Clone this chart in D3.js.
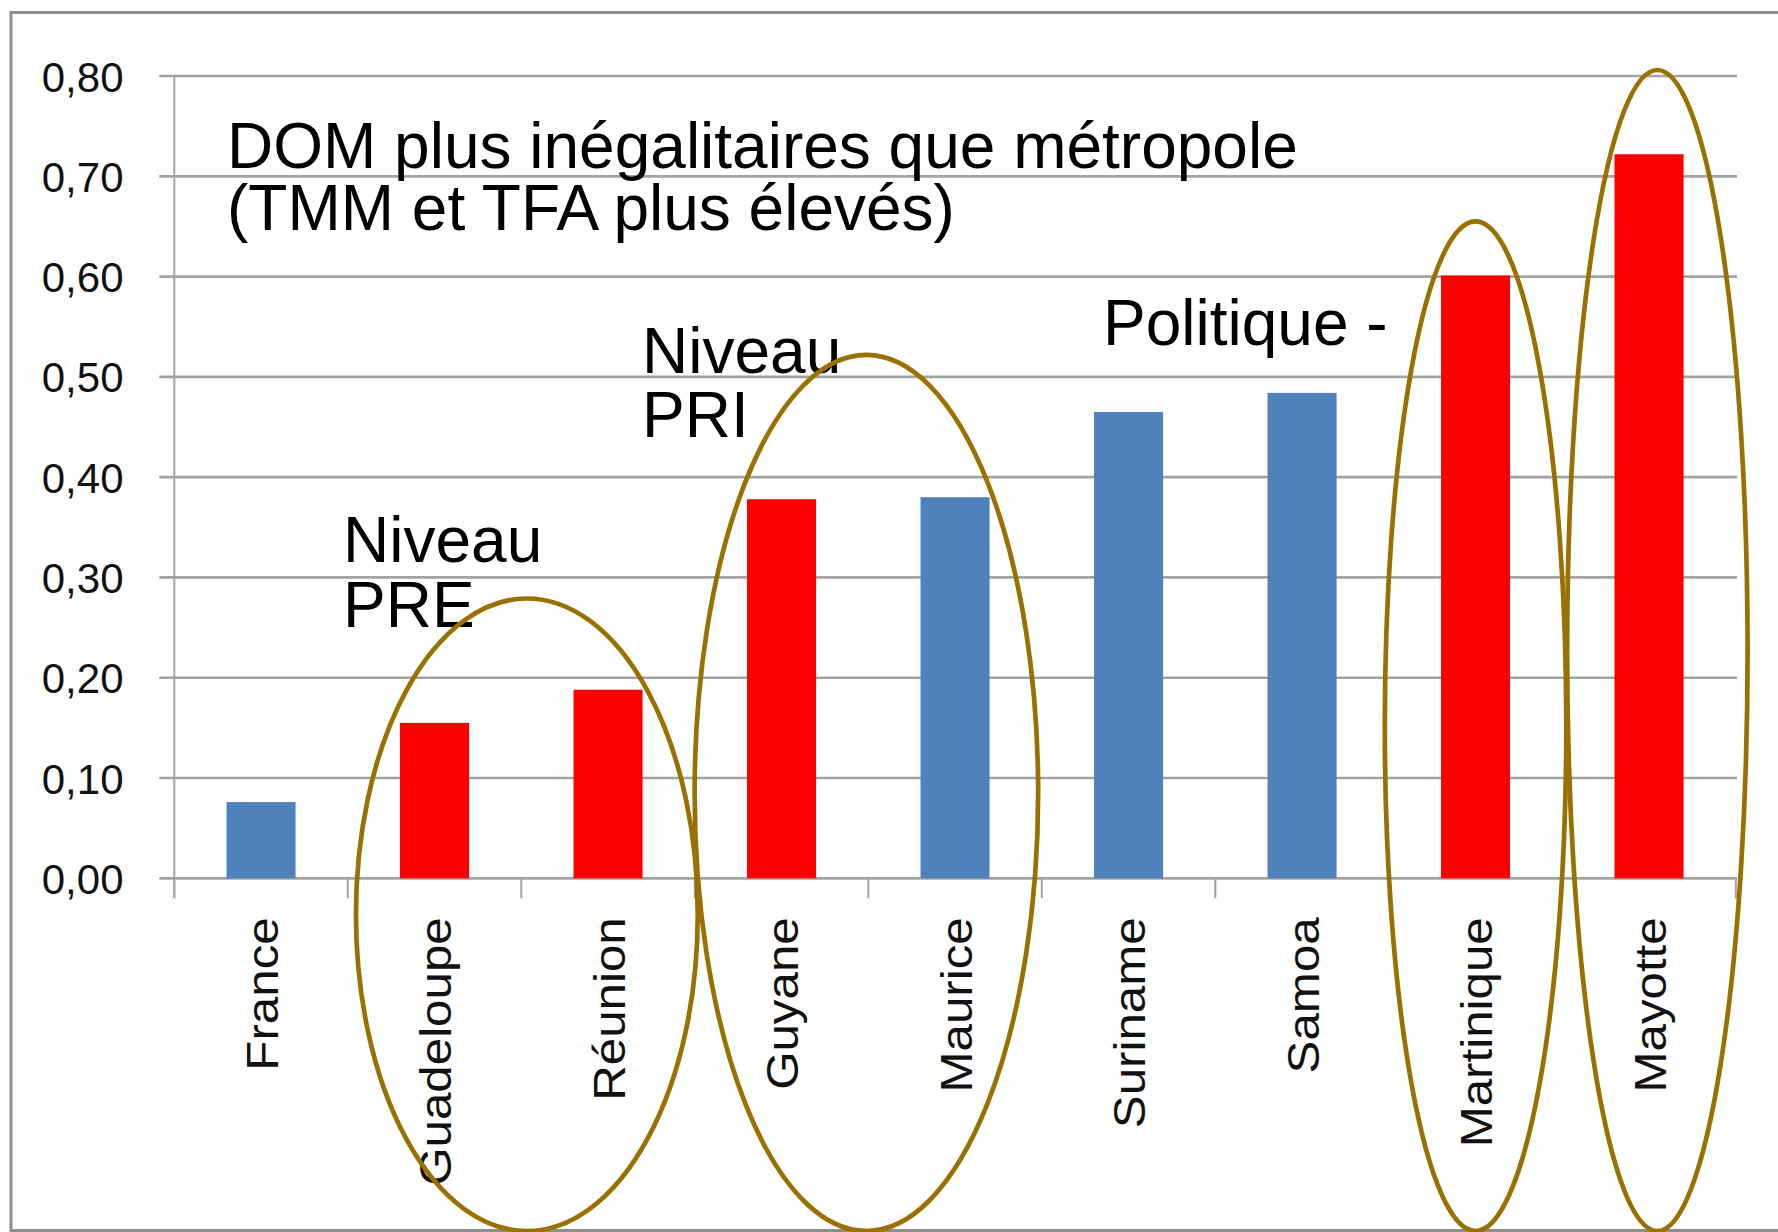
<!DOCTYPE html>
<html>
<head>
<meta charset="utf-8">
<script src="https://cdn.jsdelivr.net/npm/d3@7/dist/d3.min.js"></script>
<style>
  html, body { margin: 0; padding: 0; background: #ffffff; }
  svg { display: block; }
</style>
</head>
<body>
<svg id="chart" width="1778" height="1232"></svg>
<script>
// ---- data ----
const categories = ["France", "Guadeloupe", "Réunion", "Guyane", "Maurice", "Suriname", "Samoa", "Martinique", "Mayotte"];
const values = [0.076, 0.155, 0.188, 0.378, 0.380, 0.465, 0.484, 0.601, 0.722];
const isDOM = [false, true, true, true, false, false, false, true, true];
const yTickValues = [0, 0.1, 0.2, 0.3, 0.4, 0.5, 0.6, 0.7, 0.8];
const annotationLines = [
  ["DOM plus inégalitaires que métropole", "(TMM et TFA plus élevés)"],
  ["Niveau", "PRE"],
  ["Niveau", "PRI"],
  ["Politique -"]
];
// ellipse groups: first/last category index and top value
const groupFirst = [1, 3, 7, 8];
const groupLast = [2, 4, 7, 8];
const groupTop = [0.279, 0.522, 0.655, 0.806];

// ---- layout ----
const svg = d3.select("#chart");
const W = 1778, H = 1232;
const plotLeft = 174.3, plotRight = 1735.8, y0 = 878.3, yTop = 76;

const x = d3.scaleBand().domain(categories).range([plotLeft, plotRight])
  .paddingInner(0.602).paddingOuter(0.301);
const y = d3.scaleLinear().domain([0, 0.8]).range([y0, yTop]);
const step = x.step();

// frame
svg.append("path")
  .attr("d", `M ${W + 5} 12.5 L 11 12.5 L 11 1230.5 L ${W + 5} 1230.5`)
  .attr("fill", "none").attr("stroke", "#8e8e8e").attr("stroke-width", 3);

// gridlines
svg.append("g").selectAll("line").data(yTickValues).join("line")
  .attr("x1", 159.3).attr("x2", 1737)
  .attr("y1", d => y(d)).attr("y2", d => y(d))
  .attr("stroke", "#a3a3a3").attr("stroke-width", 2.7);

// bars
svg.append("g").selectAll("rect").data(categories).join("rect")
  .attr("x", d => x(d))
  .attr("y", (d, i) => y(values[i]))
  .attr("width", x.bandwidth())
  .attr("height", (d, i) => y(0) - y(values[i]))
  .attr("fill", (d, i) => isDOM[i] ? "#ff0000" : "#4f81bd");

// y axis vertical line
svg.append("line")
  .attr("x1", plotLeft).attr("x2", plotLeft)
  .attr("y1", y(0.8)).attr("y2", y0 + 20)
  .attr("stroke", "#a3a3a3").attr("stroke-width", 2);

// category boundary ticks
const boundaries = d3.range(categories.length + 1).map(i => plotLeft + i * step);
svg.append("g").selectAll("line").data(boundaries).join("line")
  .attr("x1", d => d).attr("x2", d => d)
  .attr("y1", y0).attr("y2", y0 + 20)
  .attr("stroke", "#a3a3a3").attr("stroke-width", 2);

// y axis labels
const yAxis = d3.axisLeft(y).tickValues(yTickValues).tickSize(0).tickPadding(0)
  .tickFormat(d => d3.format(".2f")(d).replace(".", ","));
const gy = svg.append("g").attr("transform", `translate(123.5,0)`).call(yAxis);
gy.select(".domain").remove();
gy.selectAll("text")
  .attr("font-family", "'Liberation Sans', Arial, sans-serif")
  .attr("font-size", 42).attr("fill", "#111").attr("dy", "0.36em")
  .attr("x", 0);

// x axis labels (rotated)
const xAxis = d3.axisBottom(x).tickSize(0).tickPadding(0);
const gx = svg.append("g").attr("transform", `translate(0,${y0})`).call(xAxis);
gx.select(".domain").remove();
gx.selectAll(".tick text")
  .attr("font-family", "'Liberation Sans', Arial, sans-serif")
  .attr("font-size", 44).attr("fill", "#111")
  .attr("text-anchor", "end")
  .attr("x", 0).attr("y", 0).attr("dy", "0.38em")
  .attr("transform", "translate(0,39) rotate(-90) scale(1.12,1)");

// annotations
const annoX = [227, 343, 642, 1103];
const annoY = [167.5, 561.7, 373.3, 344.7];
const annoLead = [62, 65, 64, 64];
const ga = svg.append("g")
  .attr("font-family", "'Liberation Sans', Arial, sans-serif")
  .attr("font-size", 64).attr("fill", "#000");
annotationLines.forEach((lines, k) => {
  const t = ga.append("text").attr("x", annoX[k]).attr("y", annoY[k]);
  lines.forEach((s, j) => {
    t.append("tspan").attr("x", annoX[k]).attr("dy", j === 0 ? 0 : annoLead[k]).text(s);
  });
});

// ellipses
const cxOffset = [0.032, -0.011, 0.0, 0.048];   // in band steps
const rxSteps = [0.985, 0.99, 0.523, 0.52];
const bottomY = 1231;
const ge = svg.append("g");
groupFirst.forEach((f, k) => {
  const c0 = x(categories[f]) + x.bandwidth() / 2;
  const c1 = x(categories[groupLast[k]]) + x.bandwidth() / 2;
  const cx = (c0 + c1) / 2 + cxOffset[k] * step;
  const top = y(groupTop[k]);
  ge.append("ellipse")
    .attr("cx", cx).attr("cy", (top + bottomY) / 2)
    .attr("rx", rxSteps[k] * step).attr("ry", (bottomY - top) / 2)
    .attr("fill", "none").attr("stroke", "#9a7100").attr("stroke-width", 4.7);
});
</script>
</body>
</html>
